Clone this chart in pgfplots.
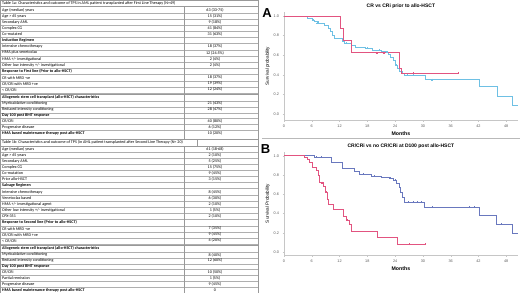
\documentclass[border=0pt]{standalone}
\usepackage{pgfplots}
\pgfplotsset{compat=1.18}
\usepackage{fontspec}
\setmainfont{Carlito}
\newfontfamily\arial{Liberation Sans}
\definecolor{kmred}{RGB}{226,84,128}
\definecolor{kmblueA}{RGB}{110,192,228}
\definecolor{kmblueB}{RGB}{105,120,190}
\definecolor{tline}{RGB}{175,175,175}
\newcommand\trow[3]{%
  \node[anchor=west,inner sep=0pt] at (2,#1) {#2};
  \node[inner sep=0pt] at (215,#1) {#3};
  \draw[tline,line width=0.25pt] (0.5,{#1+3.1}) -- (258,{#1+3.1});}
\pgfplotsset{km/.style={
  scale only axis, width=233.8pt, xmin=0, xmax=50.5,
  axis lines=left, axis line style={-,draw=gray!45,line width=0.4pt},
  xtick={0,6,...,48}, ytick={0,0.2,0.4,0.6,0.8,1},
  tick style={gray!45,line width=0.3pt}, major tick length=1.5pt, tick align=outside,
  /pgf/number format/assume math mode=true,
  tick label style={font=\arial\fontsize{3.8}{4}\selectfont, text=gray!70!black},
  yticklabel style={/pgf/number format/.cd,fixed,fixed zerofill,precision=1},
  title style={font=\arial\bfseries\fontsize{5}{6}\selectfont, yshift=-6.5pt},
  xlabel style={font=\arial\bfseries\fontsize{5.2}{6}\selectfont, yshift=2.5pt},
  ylabel style={font=\arial\fontsize{4.6}{5}\selectfont, yshift=-3pt},
  clip=false}}
\begin{document}
\begin{tikzpicture}
\useasboundingbox (0,0) rectangle (520pt,293pt);
\begin{scope}[x=1pt,y=-1pt,yshift=293pt,font=\fontsize{4.1}{4.5}\selectfont]
% ---------- Table 1a
\draw[gray!80,line width=0.4pt] (0.5,0.3) -- (258,0.3);
\node[anchor=west,inner sep=0pt] at (2,3.1) {Table 1a: Characteristics and outcome of TPS in AML patient transplanted after First Line Therapy (N=49)};
\draw[gray!80,line width=0.4pt] (0.5,6.6) -- (258,6.6);
\trow{10}{Age (median) years}{63 (33-75)}
\trow{16}{Age > 65 years}{15 (31\%)}
\trow{22}{Secondary AML}{9 (18\%)}
\trow{28}{Complex CG}{41 (84\%)}
\trow{34}{Co-mutated}{31 (63\%)}
\trow{40.4}{\bfseries Induction Regimen}{}
\trow{46.6}{Intensive chemotherapy}{18 (37\%)}
\trow{52.8}{HMA plus venetoclax}{12 (24.5\%)}
\trow{59.1}{HMA +/- investigational}{2 (4\%)}
\trow{65.3}{Other low intensity +/- investigational}{2 (4\%)}
\trow{71.4}{\bfseries Response to First line (Prior to allo-HSCT)}{}
\trow{77.7}{CR with MRD -ve}{18 (37\%)}
\trow{83.7}{CR/CRi with MRD +ve}{19 (39\%)}
\trow{89.7}{< CR/CRi}{12 (24\%)}
\draw[gray!80,line width=0.5pt] (0.5,94) -- (258,94);
\trow{97.7}{\bfseries Allogeneic stem cell transplant (allo-HSCT) characteristics}{}
\trow{103.7}{Myeloablative conditioning}{21 (43\%)}
\trow{109.6}{Reduced intensity conditioning}{28 (47\%)}
\trow{115.4}{\bfseries Day 100 post BMT response}{}
\trow{121.3}{CR/CRi}{40 (80\%)}
\trow{127.5}{Progressive disease}{6 (12\%)}
\node[anchor=west,inner sep=0pt] at (2,133.4) {\bfseries HMA based maintenance therapy post allo-HSCT};
\node[inner sep=0pt] at (215,133.4) {10 (20\%)};
% ---------- Table 1b
\draw[gray!80,line width=0.6pt] (0.5,139.4) -- (258,139.4);
\node[anchor=west,inner sep=0pt] at (2,142.8) {Table 1b: Characteristics and outcome of TPS (in AML patient transplanted after Second Line Therapy (N= 20)};
\draw[gray!80,line width=0.4pt] (0.5,146) -- (258,146);
\draw[gray!80,line width=0.3pt] (197,139.4) -- (197,146);
\trow{149}{Age (median) years}{61 (18-68)}
\trow{155}{Age > 65 years}{2 (10\%)}
\trow{161}{Secondary AML}{5 (25\%)}
\trow{167}{Complex CG}{15 (75\%)}
\trow{173}{Co-mutation}{9 (45\%)}
\trow{179}{Prior allo-HSCT}{3 (15\%)}
\trow{185.5}{\bfseries Salvage Regimen}{}
\trow{192}{Intensive chemotherapy}{8 (45\%)}
\trow{198.2}{Venetoclax based}{6 (30\%)}
\trow{204.3}{HMA +/- investigational agent}{2 (10\%)}
\trow{210.3}{Other low intensity +/- investigational}{1 (5\%)}
\trow{216.4}{CPX-351}{2 (10\%)}
\trow{222.6}{\bfseries Response to Second line (Prior to allo-HSCT)}{}
\trow{228.7}{CR with MRD -ve}{7 (35\%)}
\trow{234.7}{CR/CRi with MRD +ve}{9 (45\%)}
\trow{240.7}{< CR/CRi}{4 (20\%)}
\draw[gray!80,line width=0.5pt] (0.5,245) -- (258,245);
\trow{248.7}{\bfseries Allogeneic stem cell transplant (allo-HSCT) characteristics}{}
\trow{254.9}{Myeloablative conditioning}{8 (40\%)}
\trow{260.6}{Reduced intensity conditioning}{12 (60\%)}
\trow{266.2}{\bfseries Day 100 post BMT response}{}
\trow{272}{CR/CRi}{10 (50\%)}
\trow{278}{Partial remission}{1 (5\%)}
\trow{284}{Progressive disease}{9 (45\%)}
\node[anchor=west,inner sep=0pt] at (2,290) {\bfseries HMA based maintenance therapy post allo-HSCT};
\node[inner sep=0pt] at (215,290) {0};
% verticals
\draw[gray!80,line width=0.4pt] (0.5,0.3) -- (0.5,293);
\draw[gray!80,line width=0.4pt] (258,0.3) -- (258,293);
\draw[gray!80,line width=0.3pt] (184,6.6) -- (184,139.4);
\draw[gray!80,line width=0.3pt] (184,146) -- (184,293);
% right panel separator and letters
\draw[gray!55,line width=1pt] (262,138) -- (520,138);
\node[font=\arial\bfseries\fontsize{13}{14}\selectfont,inner sep=0pt] at (267,13) {A};
\node[font=\arial\bfseries\fontsize{13}{14}\selectfont,inner sep=0pt] at (265.5,149.5) {B};
\end{scope}

% ---------- Plot A
\begin{axis}[km, at={(284pt,173pt)}, anchor=south west, height=108pt,
  ymin=-0.06, ymax=1.04,
  title={CR vs CRi prior to allo-HSCT}, xlabel={Months}, ylabel={Survival probability}]
\addplot[const plot, kmblueA, line width=0.55pt] coordinates {
 (0,1) (5.1,0.98) (6,0.96) (6.5,0.95) (7.5,0.93) (8.7,0.90) (9.5,0.87) (10,0.84)
 (10.5,0.80) (10.9,0.77) (12.5,0.745) (13,0.72) (14.5,0.70) (15.5,0.68) (17.5,0.67)
 (19,0.655) (21,0.645) (22,0.63) (22.5,0.61) (23,0.58) (23.5,0.55) (24,0.50)
 (24.5,0.47) (25,0.44) (25.5,0.42) (26,0.40) (30.5,0.35) (42.2,0.28) (46,0.18)
 (49.4,0.09) (50.5,0.09)};
\addplot[const plot, kmred, line width=0.55pt] coordinates {
 (0,1) (12.2,0.87) (12.7,0.75) (14.5,0.625) (24.9,0.47) (25.3,0.42) (37.6,0.42)};
\addplot[only marks, mark=+, mark size=1pt, kmblueA, mark options={line width=0.3pt}] coordinates {
 (6.2,0.96) (7.2,0.93) (13.5,0.72) (18,0.67) (20.5,0.655) (22.2,0.63) (24.2,0.50)
 (26.5,0.40) (28,0.40) (32,0.35)};
\addplot[only marks, mark=+, mark size=1pt, kmred, mark options={line width=0.3pt}] coordinates {
 (20,0.625) (21.5,0.625) (27.8,0.42) (37.6,0.42)};
\end{axis}

% ---------- Plot B
\begin{axis}[km, at={(284pt,38pt)}, anchor=south west, height=103.1pt,
  ymin=-0.03, ymax=1.04,
  title={CR/CRi vs no CR/CRi at D100 post allo-HSCT}, xlabel={Months}, ylabel={Survival Probability}]
\addplot[const plot, kmblueB, line width=0.55pt] coordinates {
 (0,1) (6.5,0.985) (10.2,0.93) (12.5,0.865) (15.2,0.84) (16.3,0.81) (18.8,0.79)
 (21,0.78) (22.7,0.765) (23.5,0.745) (24.2,0.71) (24.8,0.67) (25.2,0.62) (25.6,0.57)
 (26,0.52) (30.2,0.467) (42.2,0.387) (45.8,0.29) (49.4,0.197) (50.5,0.197)};
\addplot[const plot, kmred, line width=0.55pt] coordinates {
 (0,1) (4.4,0.98) (5,0.96) (5.5,0.93) (6,0.88) (6.9,0.85) (7.3,0.80) (7.6,0.72)
 (8.5,0.68) (9,0.62) (9.3,0.55) (9.6,0.50) (10.7,0.445) (12.9,0.375) (13.5,0.33)
 (14,0.29) (14.5,0.22) (20.2,0.155) (24.5,0.083) (30.5,0.083)};
\addplot[only marks, mark=+, mark size=1pt, kmblueB, mark options={line width=0.3pt}] coordinates {
 (7,0.985) (8,0.985) (17,0.81) (19.5,0.79) (23,0.765) (24,0.745) (26.8,0.52) (27.8,0.52)
 (28.8,0.52) (29.6,0.52) (32,0.467) (40,0.467) (41,0.467) (47,0.29)};
\addplot[only marks, mark=+, mark size=1pt, kmred, mark options={line width=0.3pt}] coordinates {
 (8.2,0.72) (9.1,0.62) (13.7,0.33) (27,0.083) (30.5,0.083)};
\end{axis}
\end{tikzpicture}
\end{document}
